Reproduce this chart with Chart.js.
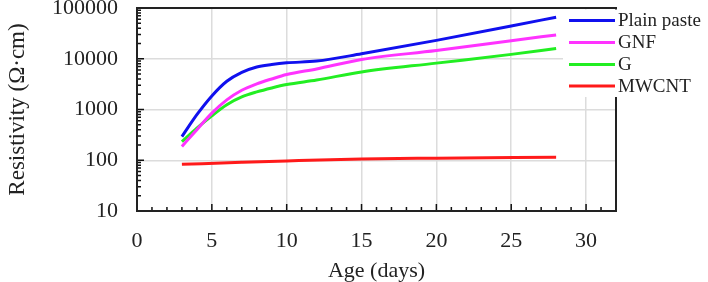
<!DOCTYPE html>
<html>
<head>
<meta charset="utf-8">
<script src="https://cdn.jsdelivr.net/npm/chart.js@4"></script>
<style>
html, body { margin: 0; padding: 0; background: #fff; }
#wrap { width: 708px; height: 282px; }
</style>
</head>
<body>
<div id="wrap"><canvas id="chart" width="708" height="282"></canvas></div>
<script>
// values
const days = [3, 4, 5, 6, 7, 8, 9, 10, 12, 15, 20, 25, 28];
const plainPaste = [293, 790, 1850, 3600, 5400, 6900, 7700, 8300, 9000, 12500, 23000, 44000, 66000];
const gnf = [187, 400, 850, 1550, 2400, 3200, 4000, 4880, 6300, 9700, 14500, 22600, 29500];
const g = [233, 430, 753, 1245, 1770, 2220, 2660, 3100, 3800, 5500, 8200, 12200, 16000];
const mwcntDays = [3, 7, 10, 15, 20, 28];
const mwcnt = [83, 91, 97, 106, 110, 115];

const xTicks = [0, 5, 10, 15, 20, 25, 30];
const yTicks = [10, 100, 1000, 10000, 100000];

const seriesNames = ["Plain paste", "GNF", "G", "MWCNT"];
const seriesColors = ["#1010ee", "#ff33ff", "#22ee22", "#ff1a1a"];

const FONT = "'Liberation Serif', 'DejaVu Serif', serif";

function pts(xs, ys) {
  return xs.map((x, i) => ({ x: x, y: ys[i] }));
}

function ds(i, data) {
  return {
    label: seriesNames[i],
    data: data,
    borderColor: seriesColors[i],
    borderWidth: 3,
    pointRadius: 0,
    cubicInterpolationMode: "monotone",
    fill: false
  };
}

// inner minor ticks, frame and legend box
const extras = {
  id: "extras",
  afterDatasetsDraw(chart) {
    const ctx = chart.ctx;
    const a = chart.chartArea;
    const xs = chart.scales.x;
    const ys = chart.scales.y;
    ctx.save();
    ctx.strokeStyle = "#111";
    ctx.lineWidth = 1.5;
    ctx.beginPath();
    for (let d = 1; d < 32; d++) {
      const px = xs.getPixelForValue(d);
      const len = d % 5 === 0 ? 7 : 4;
      ctx.moveTo(px, a.bottom);
      ctx.lineTo(px, a.bottom - len);
    }
    for (let p = 1; p <= 4; p++) {
      for (let m = 2; m <= 9; m++) {
        const py = ys.getPixelForValue(m * Math.pow(10, p));
        ctx.moveTo(a.left, py);
        ctx.lineTo(a.left + 4, py);
      }
    }
    yTicks.forEach(v => {
      const py = ys.getPixelForValue(v);
      ctx.moveTo(a.left, py);
      ctx.lineTo(a.left + 7, py);
    });
    ctx.stroke();

    // frame
    ctx.lineWidth = 2;
    ctx.strokeStyle = "#222";
    ctx.strokeRect(a.left, a.top, a.right - a.left, a.bottom - a.top);

    // legend
    ctx.fillStyle = "#fff";
    ctx.fillRect(563, a.top + 1.5, 708 - 563, 97 - a.top - 1.5);
    ctx.font = "19px " + FONT;
    ctx.textBaseline = "middle";
    ctx.textAlign = "left";
    const rowY = [20.5, 42.5, 64.5, 86];
    seriesNames.forEach((name, i) => {
      ctx.strokeStyle = seriesColors[i];
      ctx.lineWidth = 3;
      ctx.beginPath();
      ctx.moveTo(569, rowY[i]);
      ctx.lineTo(615, rowY[i]);
      ctx.stroke();
      ctx.fillStyle = "#222";
      ctx.fillText(name, 618, rowY[i] + 1);
    });
    ctx.restore();
  }
};

new Chart(document.getElementById("chart"), {
  type: "line",
  data: {
    datasets: [
      ds(0, pts(days, plainPaste)),
      ds(1, pts(days, gnf)),
      ds(2, pts(days, g)),
      ds(3, pts(mwcntDays, mwcnt))
    ]
  },
  options: {
    responsive: false,
    animation: false,
    layout: { padding: { left: 0, right: 92, top: 8, bottom: 0 } },
    plugins: {
      legend: { display: false },
      tooltip: { enabled: false }
    },
    scales: {
      x: {
        type: "linear",
        min: 0,
        max: 32,
        afterBuildTicks: s => { s.ticks = xTicks.map(v => ({ value: v })); },
        afterFit: s => { s.height = 71; s.paddingLeft = 0; s.paddingRight = 0; },
        grid: { color: "#dcdcdc", lineWidth: 1.5, drawTicks: false },
        border: { display: false },
        ticks: {
          color: "#222",
          padding: 17,
          maxRotation: 0,
          font: { family: FONT, size: 22 }
        },
        title: {
          display: true,
          text: "Age (days)",
          color: "#222",
          padding: 0,
          font: { family: FONT, size: 22, lineHeight: 1 }
        }
      },
      y: {
        type: "logarithmic",
        min: 10,
        max: 100000,
        afterBuildTicks: s => { s.ticks = yTicks.map(v => ({ value: v })); },
        afterFit: s => { s.width = 137; s.paddingTop = 0; s.paddingBottom = 0; },
        grid: { color: "#dcdcdc", lineWidth: 1.5, drawTicks: false },
        border: { display: false },
        ticks: {
          color: "#222",
          padding: 19,
          font: { family: FONT, size: 22 },
          callback: v => String(v)
        },
        title: {
          display: true,
          text: "Resistivity (Ω·cm)",
          color: "#222",
          padding: { top: 6, bottom: 0 },
          font: { family: FONT, size: 23, lineHeight: 1 }
        }
      }
    }
  },
  plugins: [extras]
});
</script>
</body>
</html>
